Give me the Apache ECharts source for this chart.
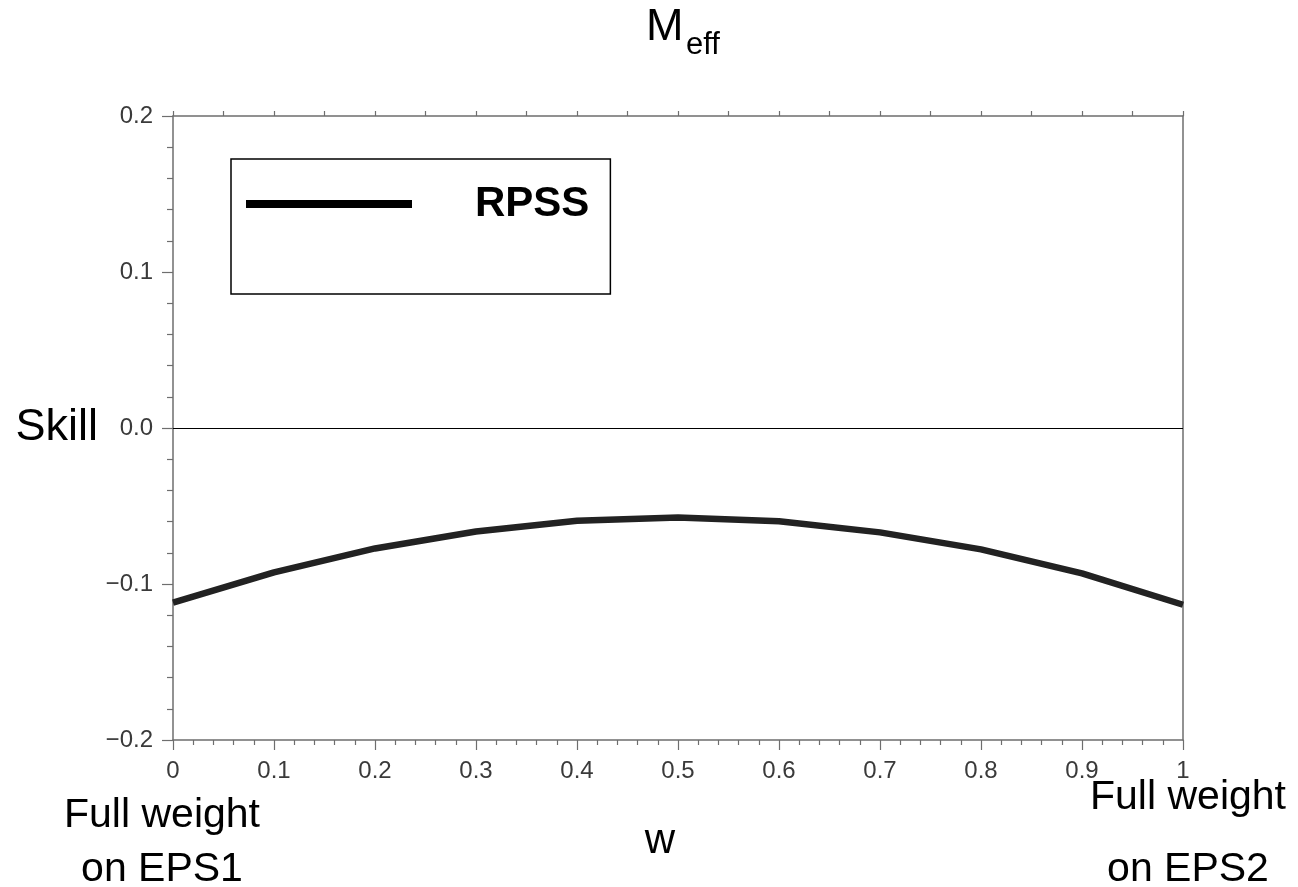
<!DOCTYPE html>
<html>
<head>
<meta charset="utf-8">
<script src="https://cdn.jsdelivr.net/npm/echarts@6/dist/echarts.min.js"></script>
<style>
  html, body { margin: 0; padding: 0; background: #ffffff; }
  #chart { width: 1298px; height: 887px; }
</style>
</head>
<body>
<div id="chart"></div>
<script>
// Weight given to the second ensemble, and the resulting skill score
var weights = [0, 0.1, 0.2, 0.3, 0.4, 0.5, 0.6, 0.7, 0.8, 0.9, 1.0];
var rpss = [-0.112, -0.0926, -0.0772, -0.0663, -0.0594, -0.0573, -0.0598, -0.0669, -0.0778, -0.0932, -0.1133];
var seriesName = 'RPSS';
var yTickValues = [-0.2, -0.1, 0, 0.1, 0.2];
var yTickLabels = ['\u22120.2', '\u22120.1', '0.0', '0.1', '0.2'];
var xTickValues = [0, 0.1, 0.2, 0.3, 0.4, 0.5, 0.6, 0.7, 0.8, 0.9, 1];
var xTickLabels = ['0', '0.1', '0.2', '0.3', '0.4', '0.5', '0.6', '0.7', '0.8', '0.9', '1'];

var FONT = '"Liberation Sans", Arial, Helvetica, sans-serif';
var AXIS_GRAY = '#6e6e6e';

function lookup(values, labels, v) {
  for (var i = 0; i < values.length; i++) {
    if (Math.abs(values[i] - v) < 1e-9) return labels[i];
  }
  return '';
}

var chart = echarts.init(document.getElementById('chart'), null, { renderer: 'canvas' });

chart.setOption({
  backgroundColor: '#ffffff',
  animation: false,
  title: [
    { text: 'M', left: 646, top: 5, padding: 0,
      textStyle: { fontFamily: FONT, fontSize: 45, fontWeight: 'normal', color: '#000' } },
    { text: 'eff', left: 686, top: 30, padding: 0,
      textStyle: { fontFamily: FONT, fontSize: 31, fontWeight: 'normal', color: '#000' } }
  ],
  legend: {
    left: 231,
    top: 159,
    orient: 'vertical',
    padding: [24, 21, 69, 15],
    borderColor: '#000',
    borderWidth: 1.5,
    backgroundColor: '#ffffff',
    icon: 'rect',
    itemWidth: 166,
    itemHeight: 8,
    itemStyle: { color: '#000' },
    textStyle: {
      fontFamily: FONT, fontSize: 42, fontWeight: 'bold', color: '#000',
      lineHeight: 42, padding: [0, 0, 0, 58]
    },
    data: [seriesName]
  },
  grid: { left: 173, right: 115, top: 116, bottom: 147, containLabel: false },
  xAxis: [
    {
      type: 'value', min: 0, max: 1, interval: 0.1,
      name: 'w', nameLocation: 'middle', nameGap: 80,
      nameTextStyle: { fontFamily: FONT, fontSize: 42, color: '#000', padding: [0, 36, 0, 0] },
      axisLine: { show: true, onZero: false, lineStyle: { color: AXIS_GRAY, width: 1.5 } },
      axisTick: { show: true, length: 10, lineStyle: { color: AXIS_GRAY, width: 1.2 } },
      minorTick: { show: true, splitNumber: 5, length: 5, lineStyle: { color: AXIS_GRAY, width: 1.2 } },
      axisLabel: {
        margin: 19, fontFamily: FONT, fontSize: 24, color: '#3a3a3a',
        formatter: function (v) { return lookup(xTickValues, xTickLabels, v); }
      },
      splitLine: { show: false }
    },
    {
      type: 'value', min: 0, max: 1, interval: 0.05, position: 'top',
      axisLine: { show: true, onZero: false, lineStyle: { color: AXIS_GRAY, width: 1.5 } },
      axisTick: { show: true, length: 5, lineStyle: { color: AXIS_GRAY, width: 1.2 } },
      axisLabel: { show: false },
      splitLine: { show: false }
    }
  ],
  yAxis: [
    {
      type: 'value', min: -0.2, max: 0.2, interval: 0.1,
      name: 'Skill', nameLocation: 'middle', nameRotate: 0, nameGap: 75,
      nameTextStyle: { fontFamily: FONT, fontSize: 45, color: '#000', align: 'right', verticalAlign: 'middle' },
      axisLine: { show: true, onZero: false, lineStyle: { color: AXIS_GRAY, width: 1.5 } },
      axisTick: { show: true, length: 11, lineStyle: { color: AXIS_GRAY, width: 1.2 } },
      minorTick: { show: true, splitNumber: 5, length: 6, lineStyle: { color: AXIS_GRAY, width: 1.2 } },
      axisLabel: {
        margin: 20, fontFamily: FONT, fontSize: 24, color: '#3a3a3a',
        formatter: function (v) { return lookup(yTickValues, yTickLabels, v); }
      },
      splitLine: { show: false }
    },
    {
      type: 'value', min: -0.2, max: 0.2, interval: 0.1, position: 'right',
      axisLine: { show: true, onZero: false, lineStyle: { color: AXIS_GRAY, width: 1.5 } },
      axisTick: { show: false },
      axisLabel: { show: false },
      splitLine: { show: false }
    }
  ],
  series: [
    {
      name: seriesName,
      type: 'line',
      xAxisIndex: 0,
      yAxisIndex: 0,
      data: weights.map(function (w, i) { return [w, rpss[i]]; }),
      showSymbol: false,
      smooth: false,
      lineStyle: { color: '#222222', width: 6.5 },
      itemStyle: { color: '#222222' },
      markLine: {
        silent: true,
        symbol: ['none', 'none'],
        label: { show: false },
        lineStyle: { color: '#000', width: 1, type: 'solid' },
        data: [{ yAxis: 0 }]
      },
      z: 3
    }
  ],
  graphic: [
    {
      type: 'text', x: 162, y: 789,
      style: {
        text: 'Full weight\non EPS1', fontFamily: FONT, fontSize: 41,
        lineHeight: 54, fill: '#000', align: 'center', verticalAlign: 'top'
      }
    },
    {
      type: 'text', x: 1188, y: 762,
      style: {
        text: 'Full weight\non EPS2', fontFamily: FONT, fontSize: 41,
        lineHeight: 72, fill: '#000', align: 'center', verticalAlign: 'top'
      }
    }
  ]
});
</script>
</body>
</html>
